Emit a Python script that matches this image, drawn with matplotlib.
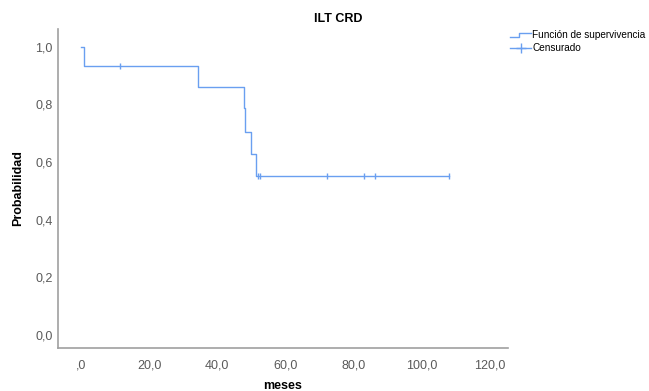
import numpy as np
import matplotlib.pyplot as plt
from matplotlib.lines import Line2D
from matplotlib.legend_handler import HandlerLine2D

plt.rcParams['font.family'] = ['Liberation Sans', 'DejaVu Sans']

# survival steps
step_t = [0.0, 0.9, 34.5, 47.8, 48.1, 49.8, 51.3, 108.0]
step_s = [1.0, 0.933, 0.859, 0.786, 0.705, 0.629, 0.553, 0.553]
cens_t = [11.6, 52.0, 52.6, 72.2, 83.0, 86.3, 108.0]
cens_s = [0.933, 0.553, 0.553, 0.553, 0.553, 0.553, 0.553]

xticks = [0, 20, 40, 60, 80, 100, 120]
xtick_labels = [',0', '20,0', '40,0', '60,0', '80,0', '100,0', '120,0']
yticks = [0.0, 0.2, 0.4, 0.6, 0.8, 1.0]
ytick_labels = ['0,0', '0,2', '0,4', '0,6', '0,8', '1,0']

col = '#6a9ff0'
grey = '#5a5a5a'


class StepHandler(HandlerLine2D):
    def create_artists(self, legend, orig, xd, yd, w, h, fontsize, trans):
        xs = [0, 0.45 * w, 0.45 * w, w]
        ys = [0.15 * h, 0.15 * h, 0.75 * h, 0.75 * h]
        ln = Line2D(np.array(xs) - xd, np.array(ys) - yd, color=col, lw=1)
        ln.set_transform(trans)
        return [ln]


fig = plt.figure(figsize=(6.49, 3.91), dpi=100)
ax = fig.add_axes([58 / 649, 1 - 348 / 391, 450 / 649, 319 / 391])

ax.step(step_t, step_s, where='post', color=col, lw=1)
ax.plot(cens_t, cens_s, ls='none', marker='|', ms=5, mew=1, color=col)

ax.set_xlim(-6.7, 125.3)
ax.set_ylim(-0.045, 1.061)
ax.set_xticks(xticks)
ax.set_xticklabels(xtick_labels)
ax.set_yticks(yticks)
ax.set_yticklabels(ytick_labels)
ax.tick_params(length=0, labelsize=9, labelcolor=grey)
ax.tick_params(axis='x', pad=8)
ax.tick_params(axis='y', pad=4)
for s in ['top', 'right']:
    ax.spines[s].set_visible(False)
for s in ['left', 'bottom']:
    ax.spines[s].set_color('#a0a0a0')
    ax.spines[s].set_linewidth(1.2)

ax.set_xlabel('meses', fontsize=9, fontweight='bold')
ax.xaxis.set_label_coords(0.5, -0.1)
ax.set_ylabel('Probabilidad', fontsize=9, fontweight='bold')
ax.yaxis.set_label_coords(-0.076, 0.5)
fig.text(338 / 649, 1 - 19 / 391, 'ILT CRD', ha='center', va='center',
         fontsize=9, fontweight='bold')

h1 = Line2D([], [], color=col, lw=1)
h2 = Line2D([], [], color=col, lw=1, marker='+', ms=7)
fig.legend([h1, h2], ['Función de supervivencia', 'Censurado'],
           loc='upper left', bbox_to_anchor=(510 / 649, 1 - 30 / 391),
           frameon=False, fontsize=7.2, handlelength=2.1, handletextpad=0.15,
           labelspacing=0.3, borderpad=0, borderaxespad=0,
           handler_map={h1: StepHandler()})

fig.savefig('out.png', dpi=100)
